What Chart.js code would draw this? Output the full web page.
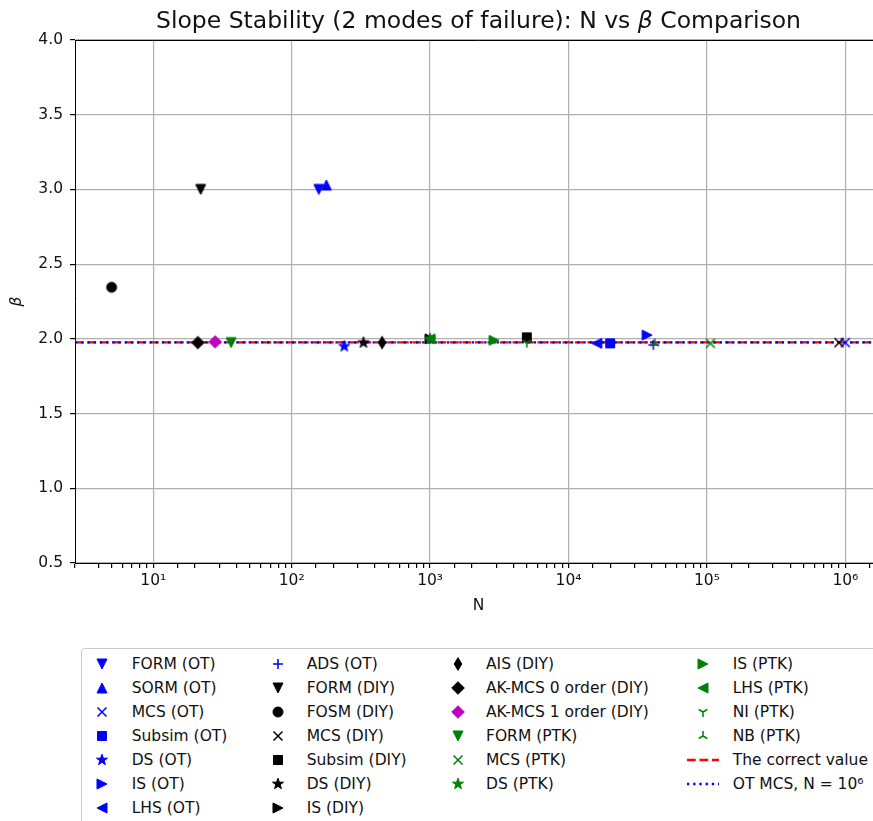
<!DOCTYPE html>
<html>
<head>
<meta charset="utf-8">
<script src="https://cdn.jsdelivr.net/npm/chart.js@4"></script>
<style>
  html, body { margin: 0; padding: 0; background: #fff; overflow: hidden; }
  #wrap { position: relative; width: 900px; height: 821px; font-family: "DejaVu Sans", sans-serif; color: #111; }
  #chart { position: absolute; left: 0; top: 0; }
  #title { position: absolute; left: 75px; width: 807px; top: 6px; text-align: center; font-size: 23.5px; line-height: 28px; }
  #legend { position: absolute; left: 81px; top: 648px; width: 840px; height: 190px; border: 1px solid #ccc; border-radius: 4px; background: #fff; }
  .item { position: absolute; font-size: 15.5px; line-height: 24px; white-space: nowrap; }
  .icon { position: absolute; }
</style>
</head>
<body>
<div id="wrap">
  <canvas id="chart" width="900" height="821"></canvas>
  <div id="title">Slope Stability (2 modes of failure): N vs <i>β</i> Comparison</div>
  <div id="legend"></div>
</div>
<script>
// data
const seriesNames = [
  "FORM (OT)", "SORM (OT)", "MCS (OT)", "Subsim (OT)", "DS (OT)", "IS (OT)", "LHS (OT)", "ADS (OT)",
  "FORM (DIY)", "FOSM (DIY)", "MCS (DIY)", "Subsim (DIY)", "DS (DIY)", "IS (DIY)", "AIS (DIY)",
  "AK-MCS 0 order (DIY)", "AK-MCS 1 order (DIY)",
  "FORM (PTK)", "MCS (PTK)", "DS (PTK)", "IS (PTK)", "LHS (PTK)", "NI (PTK)", "NB (PTK)"
];
const seriesN = [
  157, 178, 1000000, 20000, 240, 37000, 16000, 41000,
  22, 5, 900000, 5000, 330, 1000, 450,
  21, 28,
  36.5, 106000, 1000, 2900, 1000, 5000, 42000
];
const seriesBeta = [
  3.00, 3.03, 1.975, 1.97, 1.95, 2.025, 1.97, 1.96,
  3.00, 2.345, 1.975, 2.01, 1.975, 2.00, 1.975,
  1.975, 1.98,
  1.975, 1.97, 2.00, 1.99, 2.00, 1.975, 1.97
];
const correctBeta = 1.976;
const otMcsBeta = 1.976;

// styles
const seriesMarker = [
  "v", "^", "x", "s", "*", ">", "<", "+",
  "v", "o", "x", "s", "*", ">", "d",
  "D", "D",
  "v", "x", "*", ">", "<", "1", "2"
];
const seriesColor = [
  "#0000ff", "#0000ff", "#0000ff", "#0000ff", "#0000ff", "#0000ff", "#0000ff", "#0000ff",
  "#000000", "#000000", "#000000", "#000000", "#000000", "#000000", "#000000",
  "#000000", "#bf00bf",
  "#008000", "#008000", "#008000", "#008000", "#008000", "#008000", "#008000"
];
const xMin = 2.72, xMax = 1.84e6;
const yMin = 0.5, yMax = 4.0;

const sup = ["⁰", "¹", "²", "³", "⁴", "⁵", "⁶", "⁷"];
function isPow10(v) {
  const e = Math.log10(v);
  return Math.abs(e - Math.round(e)) < 1e-6;
}

function makeMarker(type, color) {
  const c = document.createElement("canvas");
  c.width = 20; c.height = 20;
  const g = c.getContext("2d");
  g.translate(10, 10);
  g.fillStyle = color;
  g.strokeStyle = color;
  g.lineWidth = 1;
  const r = 5;
  let filled = true;
  g.beginPath();
  switch (type) {
    case "v": g.moveTo(-r, -r); g.lineTo(r, -r); g.lineTo(0, r); g.closePath(); break;
    case "^": g.moveTo(-r, r); g.lineTo(r, r); g.lineTo(0, -r); g.closePath(); break;
    case ">": g.moveTo(-r, -r); g.lineTo(-r, r); g.lineTo(r, 0); g.closePath(); break;
    case "<": g.moveTo(r, -r); g.lineTo(r, r); g.lineTo(-r, 0); g.closePath(); break;
    case "o": g.arc(0, 0, r, 0, Math.PI * 2); break;
    case "s": g.rect(-4.5, -4.5, 9, 9); break;
    case "D": g.moveTo(0, -6.3); g.lineTo(6.3, 0); g.lineTo(0, 6.3); g.lineTo(-6.3, 0); g.closePath(); break;
    case "d": g.moveTo(0, -6.3); g.lineTo(3.8, 0); g.lineTo(0, 6.3); g.lineTo(-3.8, 0); g.closePath(); break;
    case "*":
      for (let i = 0; i < 10; i++) {
        const a = -Math.PI / 2 + i * Math.PI / 5;
        const rr = i % 2 === 0 ? 5.8 : 2.3;
        if (i === 0) g.moveTo(rr * Math.cos(a), rr * Math.sin(a));
        else g.lineTo(rr * Math.cos(a), rr * Math.sin(a));
      }
      g.closePath();
      break;
    case "x": filled = false; g.moveTo(-4.5, -4.5); g.lineTo(4.5, 4.5); g.moveTo(-4.5, 4.5); g.lineTo(4.5, -4.5); break;
    case "+": filled = false; g.moveTo(-5, 0); g.lineTo(5, 0); g.moveTo(0, -5); g.lineTo(0, 5); break;
    case "1": filled = false; g.moveTo(0, 0); g.lineTo(0, 5); g.moveTo(0, 0); g.lineTo(-4.3, -2.5); g.moveTo(0, 0); g.lineTo(4.3, -2.5); break;
    case "2": filled = false; g.moveTo(0, 0); g.lineTo(0, -5); g.moveTo(0, 0); g.lineTo(-4.3, 2.5); g.moveTo(0, 0); g.lineTo(4.3, 2.5); break;
  }
  if (filled) { g.fill(); g.stroke(); }
  else { g.lineWidth = 1.5; g.stroke(); }
  return c;
}

const markerImgs = seriesNames.map((_, i) => makeMarker(seriesMarker[i], seriesColor[i]));

const datasets = seriesNames.map((name, i) => ({
  label: name,
  data: [{ x: seriesN[i], y: seriesBeta[i] }],
  pointStyle: markerImgs[i],
  pointRadius: 5,
  showLine: false,
  order: seriesNames.length - i
}));
datasets.push({
  label: "The correct value",
  data: [{ x: xMin, y: correctBeta }, { x: xMax, y: correctBeta }],
  showLine: true,
  borderColor: "#ff0000",
  borderWidth: 2.3,
  borderDash: [8.7, 3.8],
  pointRadius: 0,
  order: 100
});
datasets.push({
  label: "OT MCS, N = 10⁶",
  data: [{ x: xMin, y: otMcsBeta }, { x: xMax, y: otMcsBeta }],
  showLine: true,
  borderColor: "#0000ff",
  borderWidth: 2.3,
  borderDash: [2.3, 3.9],
  pointRadius: 0,
  order: 99
});

const topSpine = {
  id: "topSpine",
  afterDraw(chart) {
    const { ctx, chartArea } = chart;
    ctx.save();
    ctx.strokeStyle = "#000";
    ctx.lineWidth = 1;
    ctx.beginPath();
    ctx.moveTo(chartArea.left, chartArea.top + 0.5);
    ctx.lineTo(chartArea.right, chartArea.top + 0.5);
    ctx.moveTo(chartArea.right - 0.5, chartArea.top);
    ctx.lineTo(chartArea.right - 0.5, chartArea.bottom);
    ctx.stroke();
    ctx.restore();
  }
};

Chart.defaults.font.family = "'DejaVu Sans', sans-serif";
Chart.defaults.color = "#111";

new Chart(document.getElementById("chart"), {
  type: "scatter",
  data: { datasets: datasets },
  options: {
    responsive: false,
    animation: false,
    layout: { padding: { top: 40, right: 18, bottom: 198, left: 0 } },
    plugins: {
      legend: { display: false },
      tooltip: { enabled: false },
      title: { display: false }
    },
    scales: {
      x: {
        type: "logarithmic",
        min: xMin,
        max: xMax,
        afterFit: (scale) => { scale.height = 60; },
        border: { display: true, color: "#000", width: 1 },
        grid: {
          color: (c) => (c.tick && isPow10(c.tick.value) ? "#b0b0b0" : "rgba(0,0,0,0)"),
          tickColor: "#000",
          tickLength: 5,
          lineWidth: 1.2
        },
        ticks: {
          autoSkip: false,
          maxRotation: 0,
          padding: 4,
          font: { size: 15.5 },
          color: "#111",
          callback: (v) => (isPow10(v) ? "10" + sup[Math.round(Math.log10(v))] : "")
        },
        title: { display: true, text: "N", font: { size: 15.5 }, color: "#111", padding: { top: 0, bottom: 8 } }
      },
      y: {
        min: yMin,
        max: yMax,
        afterFit: (scale) => { scale.width = 75; },
        border: { display: true, color: "#000", width: 1 },
        grid: { color: "#b0b0b0", tickColor: "#000", tickLength: 5, lineWidth: 1.2 },
        ticks: {
          stepSize: 0.5,
          padding: 7,
          font: { size: 15.5 },
          color: "#111",
          callback: (v) => Number(v).toFixed(1)
        },
        title: { display: true, text: "β", font: { size: 15.5, style: "italic" }, color: "#111", padding: { top: 8, bottom: 0 } }
      }
    }
  },
  plugins: [topSpine]
});

// legend, four columns filled top to bottom
const legendCols = [
  [0, 1, 2, 3, 4, 5, 6],
  [7, 8, 9, 10, 11, 12, 13],
  [14, 15, 16, 17, 18, 19],
  [20, 21, 22, 23, "red", "blue"]
];
const colMarkerX = [101.7, 278.3, 458.3, 703];
const colTextX = [131.7, 306.7, 486, 732.7];
const rowY0 = 664, rowStep = 24;
const legendEl = document.getElementById("legend");
const legLeft = 82, legTop = 649;

legendCols.forEach((col, ci) => {
  col.forEach((key, ri) => {
    const cy = rowY0 + ri * rowStep;
    const icon = document.createElement("canvas");
    icon.width = 34; icon.height = 20;
    icon.className = "icon";
    icon.style.left = (colMarkerX[ci] - 17 - legLeft) + "px";
    icon.style.top = (cy - 10 - legTop) + "px";
    const g = icon.getContext("2d");
    let text;
    if (typeof key === "number") {
      g.drawImage(markerImgs[key], 7, 0);
      text = seriesNames[key];
    } else {
      g.lineWidth = 2.3;
      g.strokeStyle = key === "red" ? "#ff0000" : "#0000ff";
      g.setLineDash(key === "red" ? [8.7, 3.8] : [2.3, 3.9]);
      g.beginPath();
      g.moveTo(1, 10);
      g.lineTo(33, 10);
      g.stroke();
      text = key === "red" ? "The correct value" : "OT MCS, N = 10⁶";
    }
    legendEl.appendChild(icon);
    const span = document.createElement("div");
    span.className = "item";
    span.textContent = text;
    span.style.left = (colTextX[ci] - legLeft) + "px";
    span.style.top = (cy - 12 - legTop) + "px";
    legendEl.appendChild(span);
  });
});
</script>
</body>
</html>
